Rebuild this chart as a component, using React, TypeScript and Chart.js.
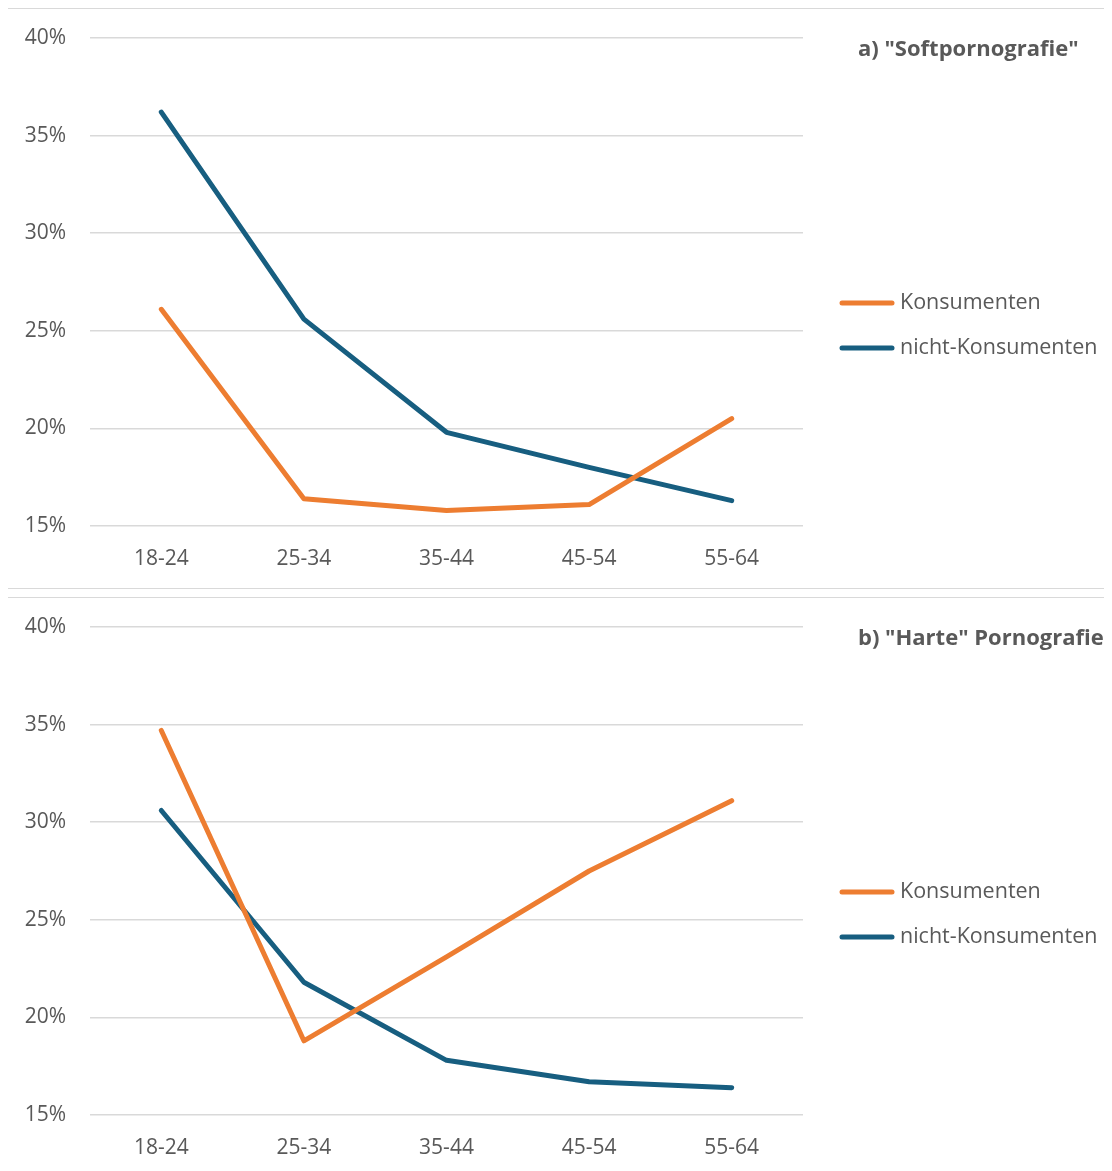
import React, { useEffect, useRef } from "react";
import { Chart, registerables } from "chart.js";

Chart.register(...registerables);

const categories = ["18-24", "25-34", "35-44", "45-54", "55-64"];
const seriesNames = ["Konsumenten", "nicht-Konsumenten"];
const softKonsumenten = [26.1, 16.4, 15.8, 16.1, 20.5];
const softNicht = [36.2, 25.6, 19.8, 18.0, 16.3];
const hardKonsumenten = [34.7, 18.8, 23.1, 27.5, 31.1];
const hardNicht = [30.6, 21.8, 17.8, 16.7, 16.4];
const titles = ['a) "Softpornografie"', 'b) "Harte" Pornografie'];
const yMin = 15;
const yMax = 40;
const yStep = 5;

const ORANGE = "#ED7D31";
const BLUE = "#175E80";
const TEXT = "#595959";
const GRID = "#d9d9d9";
const FONT = "'Open Sans', 'Noto Sans', sans-serif";

const CW = 1110;
const CH = 579;

function LineChart({ title, a, b }: { title: string; a: number[]; b: number[] }) {
  const ref = useRef<HTMLCanvasElement | null>(null);
  useEffect(() => {
    const canvas = ref.current!;
    const overlay = {
      id: "overlay",
      afterDraw(chart: any) {
        const ctx = chart.ctx;
        ctx.save();
        ctx.fillStyle = TEXT;
        ctx.font = `bold 22px ${FONT}`;
        ctx.textBaseline = "middle";
        ctx.textAlign = "left";
        ctx.fillText(title, 850, 41);
        ctx.font = `21.5px ${FONT}`;
        chart.data.datasets.forEach((ds: any, i: number) => {
          const y = 294 + i * 45;
          ctx.strokeStyle = ds.borderColor;
          ctx.lineWidth = 5;
          ctx.lineCap = "round";
          ctx.beginPath();
          ctx.moveTo(834, y);
          ctx.lineTo(884, y);
          ctx.stroke();
          ctx.fillStyle = TEXT;
          ctx.fillText(ds.label, 892, y);
        });
        ctx.restore();
      },
    };
    const chart = new Chart(canvas, {
      type: "line",
      data: {
        labels: categories,
        datasets: [
          { label: seriesNames[0], data: a, borderColor: ORANGE, backgroundColor: ORANGE },
          { label: seriesNames[1], data: b, borderColor: BLUE, backgroundColor: BLUE },
        ].map((d) => ({
          ...d,
          borderWidth: 5,
          pointRadius: 0,
          pointHoverRadius: 0,
          tension: 0,
          borderCapStyle: "round" as const,
          borderJoinStyle: "round" as const,
        })),
      },
      options: {
        responsive: false,
        animation: false,
        devicePixelRatio: 1,
        layout: { padding: { left: 0, right: 315, top: 29, bottom: 0 } },
        plugins: {
          legend: { display: false },
          title: { display: false },
          tooltip: { enabled: false },
        },
        scales: {
          x: {
            offset: true,
            grid: { display: false, drawTicks: false },
            border: { display: false },
            ticks: { color: TEXT, font: { family: FONT, size: 21 }, padding: 20, maxRotation: 0 },
            afterFit: (s: any) => {
              s.height = 62;
            },
          },
          y: {
            min: yMin,
            max: yMax,
            grid: { color: GRID, lineWidth: 1.5, drawTicks: false },
            border: { display: false },
            ticks: {
              stepSize: yStep,
              color: TEXT,
              font: { family: FONT, size: 21 },
              padding: 24,
              callback: (v: any) => `${v}%`,
            },
            afterFit: (s: any) => {
              s.width = 82;
              s.paddingTop = 0;
              s.paddingBottom = 0;
            },
          },
        },
      },
      plugins: [overlay],
    });
    return () => chart.destroy();
  }, [title, a, b]);
  return (
    <div
      style={{
        border: `1px solid ${GRID}`,
        width: CW,
        height: CH,
        marginLeft: -1,
        background: "#fff",
      }}
    >
      <canvas ref={ref} width={CW} height={CH} style={{ display: "block" }} />
    </div>
  );
}

export default function App() {
  useEffect(() => {
    document.body.style.overflow = "hidden";
    document.documentElement.style.overflow = "hidden";
  }, []);
  return (
    <div>
      <LineChart title={titles[0]} a={softKonsumenten} b={softNicht} />
      <div style={{ height: 8 }} />
      <LineChart title={titles[1]} a={hardKonsumenten} b={hardNicht} />
    </div>
  );
}
